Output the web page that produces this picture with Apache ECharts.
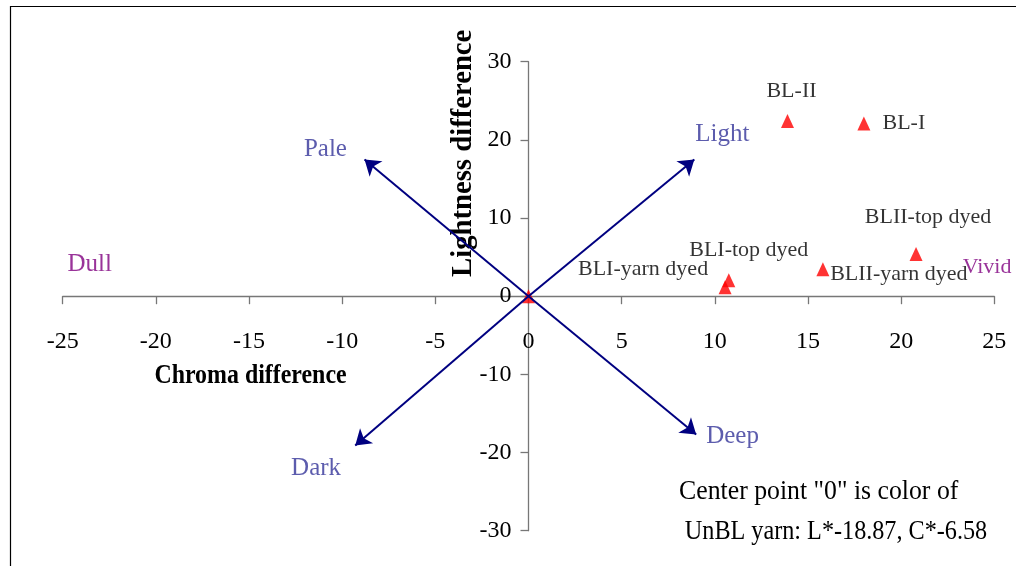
<!DOCTYPE html>
<html><head><meta charset="utf-8">
<script src="https://cdn.jsdelivr.net/npm/echarts@6/dist/echarts.min.js"></script>
<style>html,body{margin:0;padding:0;background:#fff}#c{width:1016px;height:566px}</style>
</head><body><div id="c"></div>
<script>
// Sample points (chroma difference, lightness difference)
const sampleNames = ['UnBL yarn', 'BL-II', 'BL-I', 'BLII-top dyed', 'BLII-yarn dyed', 'BLI-top dyed', 'BLI-yarn dyed'];
const chroma = [0, 13.9, 18.0, 20.8, 15.8, 10.75, 10.55];
const lightness = [0, 22.4, 22.1, 5.4, 3.45, 2.05, 1.15];

// Direction arrows from the centre point
const arrowNames = ['Light', 'Pale', 'Dark', 'Deep'];
const arrowChroma = [8.9, -8.8, -9.3, 9.0];
const arrowLightness = [17.5, 17.5, -19.1, -17.7];

// Region labels
const regionNames = ['Light', 'Pale', 'Dark', 'Deep', 'Dull', 'Vivid'];
const regionChroma = [10.4, -10.9, -11.4, 10.95, -23.55, 23.3];
const regionLightness = [20.75, 18.75, -22.05, -18.0, 4.1, 3.7];

// Axis settings
const xMin = -25, xMax = 25, xStep = 5;
const yMin = -30, yMax = 30, yStep = 10;

// label styling (not data)
const labelOffsets = [null, [4, -30], [40, 0], [12, -37], [76, 5], [20, -30], [-82, -18]];
const regionColors = ['#333399', '#333399', '#333399', '#333399', '#800080', '#800080'];
const regionAlign = ['center', 'center', 'center', 'center', 'center', 'left'];
const regionSize = [25, 25, 25, 25, 25, 22];

const FONT = "'Liberation Serif','Times New Roman',serif";
const GRID = { left: 62.7, right: 21.7, top: 61.7, bottom: 35.3 };
const W = 1016, H = 566;
const plotW = W - GRID.left - GRID.right, plotH = H - GRID.top - GRID.bottom;
// move axes to cross at zero
const xAxisOffset = -plotH * (0 - yMin) / (yMax - yMin);
const yAxisOffset = -plotW * (0 - xMin) / (xMax - xMin);

const pointData = sampleNames.map((n, i) => {
  const o = labelOffsets[i];
  return {
    name: n,
    value: [chroma[i], lightness[i]],
    label: o ? { show: true, position: 'inside', offset: o } : { show: false }
  };
});

const arrowData = arrowNames.map((n, i) => ({
  name: n,
  coords: [[0, 0], [arrowChroma[i], arrowLightness[i]]]
}));

const regionData = regionNames.map((n, i) => ({
  name: n,
  value: [regionChroma[i], regionLightness[i]],
  label: { color: regionColors[i], align: regionAlign[i], fontSize: regionSize[i] }
}));

const chart = echarts.init(document.getElementById('c'), null, { renderer: 'canvas' });
chart.setOption({
  animation: false,
  backgroundColor: '#fff',
  grid: Object.assign({ containLabel: false, outerBoundsMode: 'none' }, GRID),
  xAxis: {
    type: 'value', min: xMin, max: xMax, interval: xStep, position: 'bottom', offset: xAxisOffset,
    splitLine: { show: false },
    axisLine: { onZero: false, lineStyle: { color: '#777', width: 1.3 } },
    axisTick: { length: 8, lineStyle: { color: '#777', width: 1.3 } },
    axisLabel: { margin: 34, fontSize: 24, color: '#000', fontFamily: FONT }
  },
  yAxis: {
    type: 'value', min: yMin, max: yMax, interval: yStep, position: 'left', offset: yAxisOffset,
    splitLine: { show: false },
    axisLine: { onZero: false, lineStyle: { color: '#777', width: 1.3 } },
    axisTick: { length: 8, lineStyle: { color: '#777', width: 1.3 } },
    axisLabel: { margin: 17, fontSize: 24, color: '#000', fontFamily: FONT, padding: [5, 0, 0, 0] }
  },
  series: [
    {
      type: 'scatter', symbol: 'triangle', symbolSize: [13, 14],
      itemStyle: { color: '#ff0000' },
      label: { show: true, formatter: '{b}', fontSize: 22, color: '#000', fontFamily: FONT, align: 'center', verticalAlign: 'middle' },
      data: pointData, z: 2
    },
    {
      type: 'lines', coordinateSystem: 'cartesian2d',
      symbol: ['none', 'arrow'], symbolSize: 15,
      lineStyle: { color: '#000080', width: 2, opacity: 1, curveness: 0 },
      data: arrowData, z: 3
    },
    {
      type: 'scatter', symbolSize: 1, itemStyle: { color: 'transparent' },
      label: { show: true, position: 'inside', formatter: '{b}', fontFamily: FONT, verticalAlign: 'middle' },
      data: regionData, z: 4, silent: true
    }
  ],
  graphic: [
    { type: 'rect', shape: { x: 10.5, y: 6.5, width: 1200, height: 1000 }, style: { fill: 'none', stroke: '#000', lineWidth: 1.2 }, silent: true },
    { type: 'text', x: 250.5, y: 376, scaleX: 0.885, style: { text: 'Chroma difference', font: "bold 27px " + FONT, fill: '#000', align: 'center', verticalAlign: 'middle' } },
    { type: 'text', x: 463.6, y: 153.3, rotation: Math.PI / 2, style: { text: 'Lightness difference', font: "bold 28.7px " + FONT, fill: '#000', align: 'center', verticalAlign: 'middle' } },
    { type: 'text', x: 818.7, y: 492, scaleX: 0.954, style: { text: 'Center point "0" is color of', font: "27px " + FONT, fill: '#000', align: 'center', verticalAlign: 'middle' } },
    { type: 'text', x: 836, y: 531.6, scaleX: 0.896, style: { text: 'UnBL yarn: L*-18.87, C*-6.58', font: "27px " + FONT, fill: '#000', align: 'center', verticalAlign: 'middle' } }
  ]
});
</script></body></html>
